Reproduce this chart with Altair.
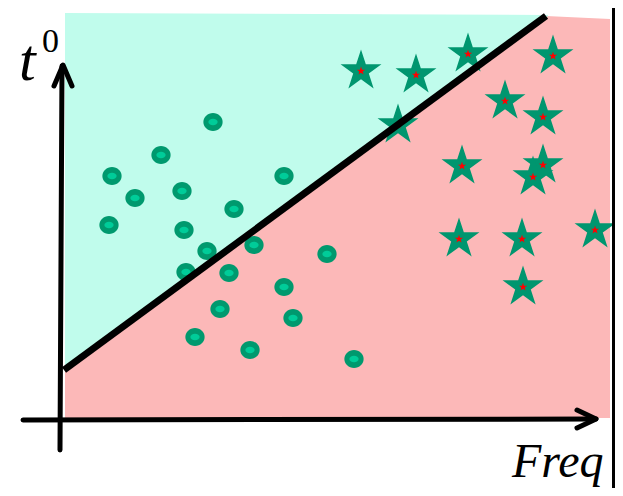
import math
import altair as alt
import pandas as pd

# ---- data (Freq, t0 units; origin at the axes' crossing) ----
circle_freq = [153, 101, 52, 75, 122, 224, 174, 49, 124, 147, 194, 267, 126, 169, 224, 160, 233, 135, 190, 294]
circle_t0 = [298, 265, 244, 222, 229, 244, 211, 195, 190, 169, 175, 166, 148, 147, 133, 111, 102, 83, 70, 61]

star_freq = [301, 356, 408, 493, 338, 445, 483, 402, 483, 473, 399, 462, 535, 463]
star_t0 = [349, 345, 366, 364, 295, 319, 303, 254, 255, 243, 181, 181, 190, 133]

# separating line
line_freq = [4, 486]
line_t0 = [50, 404]

# regions
cyan_freq = [5, 488]
cyan_top = [407, 405]
cyan_bottom = [50, 404]

pink_freq = [5, 486, 550]
pink_top = [50, 404, 401]
pink_bottom = [2, 2, 2]

# axes with arrow heads
axis_group = ["y", "y", "x", "x", "ya", "ya", "ya", "xa", "xa", "xa"]
axis_order = [0, 1, 0, 1, 0, 1, 2, 0, 1, 2]
axis_freq = [0, 2, -37, 536, -6, 3, 12, 517, 536, 517]
axis_t0 = [-30, 354, 0, 1, 334, 355, 334, 10, 1, -8]

# right frame line
frame_freq = [553.5, 553.5]
frame_t0 = [412, -68]

# labels
label_text = ["t", "0", "Freq"]
label_freq = [-41, -18, 452]
label_t0 = [340, 368, -57]
label_size = [60, 34, 48]
label_style = ["italic", "normal", "italic"]

X_DOMAIN = [-52, 555]
Y_DOMAIN = [-68, 412]

xs = alt.Scale(domain=X_DOMAIN, nice=False, zero=False)
ys = alt.Scale(domain=Y_DOMAIN, nice=False, zero=False)


def X(field="f"):
    return alt.X(f"{field}:Q", scale=xs, axis=None)


def Y(field="t"):
    return alt.Y(f"{field}:Q", scale=ys, axis=None)


# shapes
def star_path():
    pts = []
    for i in range(10):
        ang = math.radians(-90 + 36 * i)
        r = 1.0 if i % 2 == 0 else 0.382
        pts.append((r * math.cos(ang), r * math.sin(ang)))
    return "M " + " L ".join(f"{x:.4f} {y:.4f}" for x, y in pts) + " Z"


STAR = star_path()
ELL_OUT = "M -1 0 A 1 0.93 0 1 0 1 0 A 1 0.93 0 1 0 -1 0 Z"
ELL_IN = "M -1 0 A 1 0.72 0 1 0 1 0 A 1 0.72 0 1 0 -1 0 Z"

pink_df = pd.DataFrame({"f": pink_freq, "t": pink_top, "b": pink_bottom})
cyan_df = pd.DataFrame({"f": cyan_freq, "t": cyan_top, "b": cyan_bottom})
line_df = pd.DataFrame({"f": line_freq, "t": line_t0})
circ_df = pd.DataFrame({"f": circle_freq, "t": circle_t0})
star_df = pd.DataFrame({"f": star_freq, "t": star_t0})
axis_df = pd.DataFrame({"g": axis_group, "o": axis_order, "f": axis_freq, "t": axis_t0})
frame_df = pd.DataFrame({"f": frame_freq, "t": frame_t0})
lab_df = pd.DataFrame({"txt": label_text, "f": label_freq, "t": label_t0,
                       "s": label_size, "st": label_style})

pink = alt.Chart(pink_df).mark_area(color="#FCB8B8", opacity=1).encode(
    x=X(), y=Y(), y2="b:Q")
cyan = alt.Chart(cyan_df).mark_area(color="#C0FCEC", opacity=1).encode(
    x=X(), y=Y(), y2="b:Q")

circ_out = alt.Chart(circ_df).mark_point(
    shape=ELL_OUT, filled=True, size=372, color="#00996E", opacity=1, strokeWidth=0
).encode(x=X(), y=Y())
circ_in = alt.Chart(circ_df).mark_point(
    shape=ELL_IN, filled=True, size=86, color="#00CC99", opacity=1, strokeWidth=0
).encode(x=X(), y=Y())

star_out = alt.Chart(star_df).mark_point(
    shape=STAR, filled=True, size=1849, color="#00966F", opacity=1, strokeWidth=0
).encode(x=X(), y=Y())
star_in = alt.Chart(star_df).mark_point(
    shape=STAR, filled=True, size=77, color="#FF0000", opacity=1, strokeWidth=0
).encode(x=X(), y=Y())

sep = alt.Chart(line_df).mark_line(color="black", strokeWidth=7, strokeCap="butt").encode(
    x=X(), y=Y())

axes = alt.Chart(axis_df).mark_line(
    color="black", strokeWidth=5, strokeCap="round", strokeJoin="round"
).encode(x=X(), y=Y(), detail="g:N", order="o:Q")

frame = alt.Chart(frame_df).mark_line(color="black", strokeWidth=3).encode(x=X(), y=Y())

labels = []
for i in range(len(label_text)):
    sub = lab_df.iloc[[i]]
    labels.append(
        alt.Chart(sub).mark_text(
            font="Liberation Serif", fontSize=label_size[i], fontStyle=label_style[i],
            align="left", baseline="alphabetic", color="black"
        ).encode(x=X(), y=Y(), text="txt:N")
    )

chart = alt.layer(pink, cyan, circ_out, circ_in, star_out, star_in, sep, axes, frame, *labels).properties(
    width=607, height=480, padding=0, autosize=alt.AutoSizeParams(type="none"),
    background="white"
).configure_view(strokeWidth=0)

chart.save("out.html", embed_options={"renderer": "svg", "actions": False})
